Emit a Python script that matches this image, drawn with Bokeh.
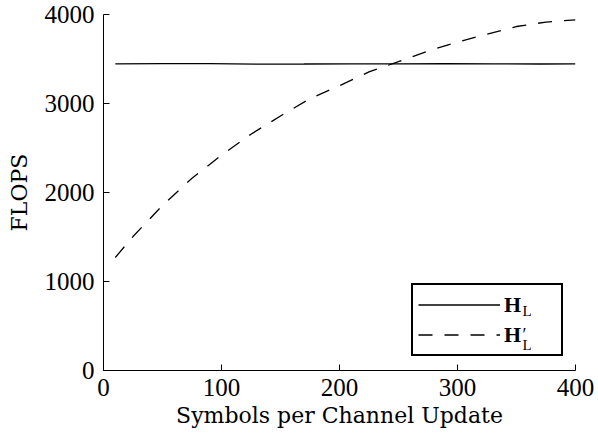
from bokeh.plotting import figure
from bokeh.models import Range1d, FixedTicker, Legend, LegendItem, Label
from bokeh.embed import file_html
from bokeh.resources import INLINE

# ---- data ----
x_hl = [10, 50, 90, 130, 170, 210, 250, 290, 330, 370, 400]
flops_hl = [3445, 3447, 3449, 3443, 3444, 3446, 3445, 3449, 3446, 3444, 3446]

x_hlp = [10, 25, 50, 75, 100, 125, 150, 175, 200, 225, 250, 275, 300, 325, 350, 375, 400]
flops_hlp = [1270, 1505, 1855, 2160, 2420, 2655, 2860, 3055, 3200, 3355, 3470,
             3590, 3690, 3780, 3865, 3915, 3940]

x_ticks = [0, 100, 200, 300, 400]
y_ticks = [0, 1000, 2000, 3000, 4000]

FONT = "Liberation Serif"
LFONT = "DejaVu Serif"

p = figure(width=598, height=439, output_backend="svg", toolbar_location=None,
           x_range=Range1d(0, 400), y_range=Range1d(0, 4000),
           min_border_left=103, min_border_right=23, min_border_top=14, min_border_bottom=69)
p.outline_line_color = None
p.grid.visible = False
p.background_fill_color = "white"

r1 = p.line(x_hl, flops_hl, line_color="black", line_width=1.3)
r2 = p.line(x_hlp, flops_hlp, line_color="black", line_width=1.3, line_dash="14 12")

for ax in (p.xaxis[0], p.yaxis[0]):
    ax.major_tick_in = 6
    ax.major_tick_out = 0
    ax.minor_tick_line_color = None
    ax.axis_line_color = "black"
    ax.major_tick_line_color = "black"
    ax.major_label_text_font = FONT
    ax.major_label_text_font_size = "25px"
    ax.major_label_text_color = "black"
    ax.axis_label_text_font = LFONT
    ax.axis_label_text_font_size = "22px"
    ax.axis_label_text_font_style = "normal"
    ax.axis_label_text_color = "black"

p.xaxis.ticker = FixedTicker(ticks=x_ticks)
p.yaxis.ticker = FixedTicker(ticks=y_ticks)
p.xaxis.major_label_standoff = 8
p.yaxis.major_label_standoff = 9
p.xaxis.axis_label = "Symbols per Channel Update"
p.yaxis.axis_label = "FLOPS"
p.xaxis.axis_label_standoff = 4
p.yaxis.axis_label_standoff = 10

legend = Legend(items=[LegendItem(label="H", renderers=[r1]),
                       LegendItem(label="H", renderers=[r2])],
                location=(308, 14))
legend.margin = 0
legend.padding = 5
legend.spacing = 1
legend.glyph_height = 29
legend.label_height = 29
legend.glyph_width = 82
legend.label_standoff = 4
legend.label_width = 52
legend.label_text_font = FONT
legend.label_text_font_size = "22px"
legend.label_text_font_style = "bold"
legend.label_text_color = "black"
legend.border_line_color = "black"
legend.border_line_alpha = 1
legend.border_line_width = 2
legend.background_fill_alpha = 0
p.add_layout(legend)

# subscripts / prime for legend labels (screen units, frame-relative)
sub_kw = dict(x_units="screen", y_units="screen", text_font=FONT, text_color="black")
p.add_layout(Label(x=419, y=52, text="L", text_font_size="15px", **sub_kw))
p.add_layout(Label(x=419, y=18, text="L", text_font_size="15px", **sub_kw))
p.add_layout(Label(x=419, y=46, text="\u2032", text_font_size="18px",
                   text_baseline="top", **sub_kw))

open("out.html", "w").write(file_html(p, INLINE))
